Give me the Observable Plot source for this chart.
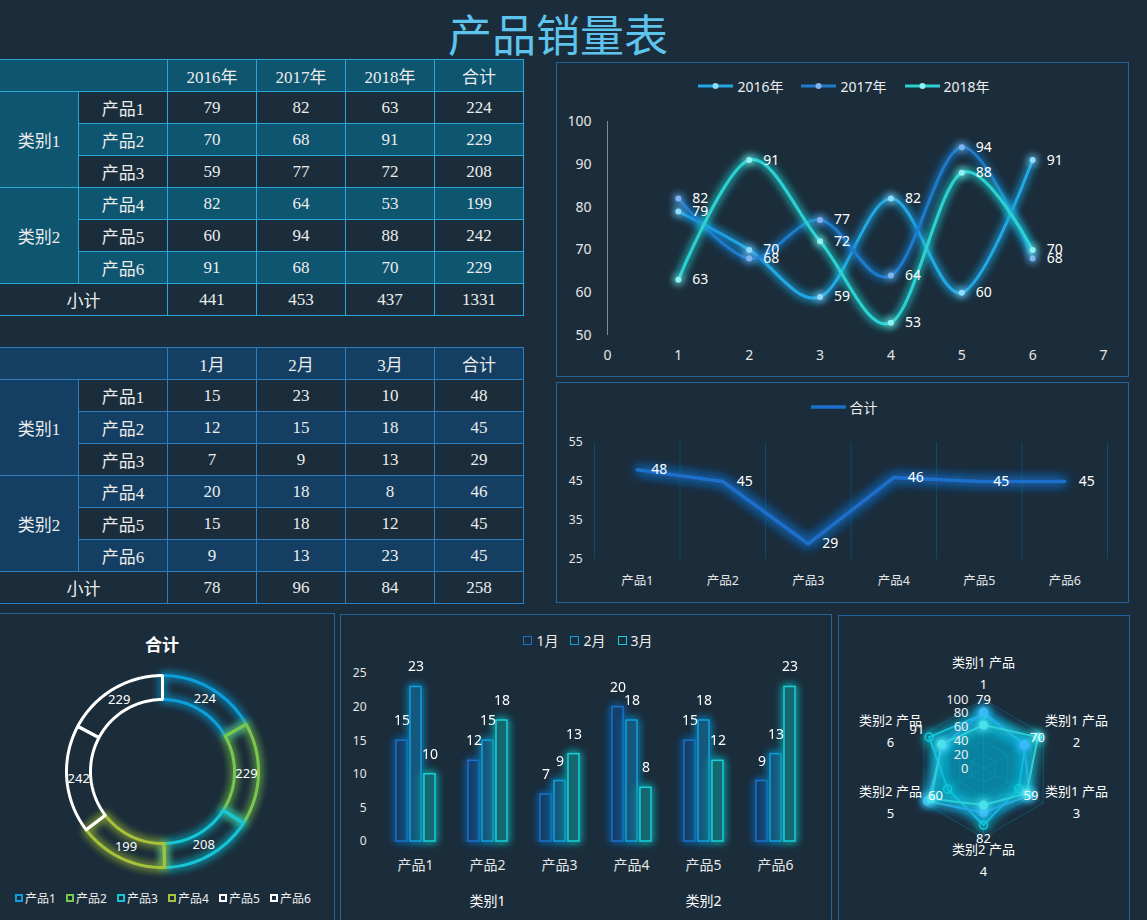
<!DOCTYPE html>
<html><head><meta charset="utf-8">
<script src="https://cdn.jsdelivr.net/npm/d3@7"></script>
<script src="https://cdn.jsdelivr.net/npm/@observablehq/plot@0.6"></script>
<style>
html,body{margin:0;padding:0;background:#1b2d3b;}
#root{position:relative;width:1147px;height:920px;overflow:hidden;background:#1b2d3b;font-family:"Noto Sans","Noto Sans CJK SC",sans-serif;color:#eaeaea;}
.panel{position:absolute;border:1px solid #22639a;box-sizing:border-box;}
.title{position:absolute;left:0;width:1116px;top:8px;text-align:center;font-size:44px;line-height:50px;color:#5ec4ee;font-family:"Noto Sans CJK SC",sans-serif;}
table.t{position:absolute;border-collapse:collapse;table-layout:fixed;width:524px;font-family:"Liberation Serif","Noto Sans CJK SC",serif;font-size:17px;color:#ececec;}
table.t td{padding:0;height:31px;text-align:center;vertical-align:middle;}
.legend{position:absolute;display:flex;align-items:center;justify-content:center;font-size:14px;color:#eee;white-space:nowrap;}
.wrap{position:absolute;}
.wrap svg{overflow:visible;}
</style></head><body>
<svg width="0" height="0" style="position:absolute">
<defs>
<filter id="glow" filterUnits="userSpaceOnUse" x="-300" y="-300" width="1600" height="1600">
<feGaussianBlur in="SourceGraphic" stdDeviation="4" result="b"/>
<feMerge><feMergeNode in="b"/><feMergeNode in="b"/><feMergeNode in="SourceGraphic"/></feMerge>
</filter>
<filter id="glowBig" filterUnits="userSpaceOnUse" x="-300" y="-300" width="1600" height="1600">
<feGaussianBlur in="SourceGraphic" stdDeviation="6" result="b"/>
<feMerge><feMergeNode in="b"/><feMergeNode in="b"/><feMergeNode in="b"/><feMergeNode in="SourceGraphic"/></feMerge>
</filter>
</defs></svg>
<div id="root"></div>
<script>
// ---------------- data ----------------
const years = ["2016年", "2017年", "2018年"];
const months = ["1月", "2月", "3月"];
const products = ["产品1", "产品2", "产品3", "产品4", "产品5", "产品6"];
const categories = ["类别1", "类别1", "类别1", "类别2", "类别2", "类别2"];
const sales2016 = [79, 70, 59, 82, 60, 91];
const sales2017 = [82, 68, 77, 64, 94, 68];
const sales2018 = [63, 91, 72, 53, 88, 70];
const salesJan = [15, 12, 7, 20, 15, 9];
const salesFeb = [23, 15, 9, 18, 18, 13];
const salesMar = [10, 18, 13, 8, 12, 23];
const lineYTicks = [50, 60, 70, 80, 90, 100];
const totalYTicks = [25, 35, 45, 55];
const barYTicks = [0, 5, 10, 15, 20, 25];
const radarTicks = [0, 20, 40, 60, 80, 100];

// ---------------- styles ----------------
const lineColors = ["#22a8e4", "#1f7ccc", "#2ad2d2"];
const dotColors = ["#8fdcff", "#7fb4ee", "#8ff4f0"];
const barStyles = [
  {fill: "#173f6b", stroke: "#1b72cc"},
  {fill: "#15587c", stroke: "#0fa0e0"},
  {fill: "#12686f", stroke: "#18d0d8"}
];
const donutColors = ["#0e9fdb", "#7ac74e", "#16c6d6", "#a6c23a", "#ffffff", "#ffffff"];
const radarLine = ["#18c4d8", "#2a9ee8", "#2ad0d8"];
const radarDot = ["#18c8d8", "#3ab8f8", "#48e2ea"];
const font = "'Noto Sans','Noto Sans CJK SC',sans-serif";
const chartStyle = {background: "transparent", color: "#e6e6e6", fontSize: "14px", fontFamily: font, overflow: "visible"};

const root = document.getElementById("root");
const yearSeries = [sales2016, sales2017, sales2018];
const monthSeries = [salesJan, salesFeb, salesMar];

function add(html) { root.insertAdjacentHTML("beforeend", html); }
function place(svg, left, top, w, h) {
  const d = document.createElement("div");
  d.className = "wrap";
  d.style.cssText = `left:${left}px;top:${top}px;width:${w}px;height:${h}px;`;
  d.appendChild(svg);
  root.appendChild(d);
}
function glow(svg, label, id, pred) {
  d3.select(svg).selectAll(`g[aria-label="${label}"]`).each(function() {
    if (!pred || pred(this)) this.setAttribute("filter", `url(#${id})`);
  });
}

// ---------------- title & panels ----------------
add(`<div class="title">产品销量表</div>`);
add(`<div class="panel" style="left:556px;top:62px;width:573px;height:315px"></div>`);
add(`<div class="panel" style="left:556px;top:382px;width:573px;height:221px"></div>`);
add(`<div class="panel" style="left:-2px;top:613px;width:337px;height:330px"></div>`);
add(`<div class="panel" style="left:340px;top:614px;width:492px;height:330px"></div>`);
add(`<div class="panel" style="left:838px;top:615px;width:292px;height:330px"></div>`);

// ---------------- tables ----------------
function makeTable(cols, series, theme, top) {
  const cell = (txt, bg, extra = "") => `<td style="background:${bg};border:1px solid ${theme.border}" ${extra}>${txt}</td>`;
  let html = `<colgroup>${[79, 89, 89, 89, 89, 89].map(w => `<col style="width:${w}px">`).join("")}</colgroup>`;
  html += `<tr>${cell("", theme.hi, 'colspan="2"')}${cols.map(c => cell(c, theme.hi)).join("")}${cell("合计", theme.hi)}</tr>`;
  products.forEach((p, i) => {
    const bg = i % 2 ? theme.hi : theme.lo;
    let r = "<tr>";
    if (i === 0 || categories[i] !== categories[i - 1]) {
      const n = categories.filter(c => c === categories[i]).length;
      r += cell(categories[i], theme.hi, `rowspan="${n}"`);
    }
    r += cell(p, bg) + series.map(s => cell(s[i], bg)).join("") + cell(d3.sum(series, s => s[i]), bg);
    html += r + "</tr>";
  });
  html += `<tr>${cell("小计", theme.lo, 'colspan="2"')}${series.map(s => cell(d3.sum(s), theme.lo)).join("")}${cell(d3.sum(series, s => d3.sum(s)), theme.lo)}</tr>`;
  add(`<table class="t" style="top:${top}px;left:-1px">${html}</table>`);
}
makeTable(years, yearSeries, {hi: "#0e5570", lo: "#1b2d3b", border: "#2ba6dc"}, 59);
makeTable(months, monthSeries, {hi: "#143f62", lo: "#1b2d3b", border: "#2a7ec2"}, 347);

// ---------------- chart A: yearly lines ----------------
{
  const legend = years.map((y, s) => `<span style="display:inline-flex;align-items:center;margin:0 9px">
    <svg width="35" height="8"><line x1="0" y1="4" x2="35" y2="4" stroke="${lineColors[s]}" stroke-width="3"/><circle cx="17.5" cy="4" r="3" fill="${dotColors[s]}"/></svg>
    <span style="margin-left:4px">${y}</span></span>`).join("");
  add(`<div class="legend" style="left:556px;top:75px;width:576px;height:22px">${legend}</div>`);
  const pts = yearSeries.map((vals, s) => vals.map((v, i) => ({x: i + 1, v})));
  const svg = Plot.plot({
    width: 572, height: 270, marginLeft: 51, marginRight: 25, marginTop: 21, marginBottom: 35,
    style: chartStyle,
    x: {domain: [0, products.length + 1], label: null},
    y: {domain: [lineYTicks[0], lineYTicks[lineYTicks.length - 1]], label: null},
    marks: [
      Plot.ruleX([0], {y1: lineYTicks[0], y2: lineYTicks[lineYTicks.length - 1], stroke: "#7f8e99", strokeWidth: 1}),
      Plot.axisX({ticks: d3.range(0, products.length + 2), tickFormat: d3.format("d"), tickSize: 0, tickPadding: 15, label: null}),
      Plot.axisY({ticks: lineYTicks, tickSize: 0, tickPadding: 16, label: null}),
      ...pts.map((p, s) => Plot.line(p, {x: "x", y: "v", stroke: lineColors[s], strokeWidth: 3, curve: "cardinal"})),
      ...pts.map((p, s) => Plot.dot(p, {x: "x", y: "v", r: 3, fill: dotColors[s]})),
      ...pts.map(p => Plot.text(p, {x: "x", y: "v", text: "v", dx: 14, textAnchor: "start", fill: "#ffffff"}))
    ]
  });
  glow(svg, "line", "glow");
  glow(svg, "dot", "glow");
  place(svg, 556, 100, 572, 270);
}

// ---------------- chart B: product totals ----------------
{
  add(`<div class="legend" style="left:556px;top:396px;width:576px;height:22px">
    <svg width="35" height="6"><line x1="0" y1="3" x2="35" y2="3" stroke="#1a70cc" stroke-width="3.5"/></svg>
    <span style="margin-left:4px">合计</span></div>`);
  const totals = products.map((p, i) => ({i, v: d3.sum(monthSeries, s => s[i])}));
  const svg = Plot.plot({
    width: 572, height: 170, marginLeft: 38, marginRight: 21, marginTop: 17, marginBottom: 36,
    style: chartStyle,
    x: {domain: [0, products.length], label: null},
    y: {domain: [totalYTicks[0], totalYTicks[totalYTicks.length - 1]], label: null},
    marks: [
      Plot.ruleX(d3.range(products.length + 1), {stroke: "#0f4a66", strokeWidth: 1}),
      Plot.axisY({ticks: totalYTicks, tickSize: 0, tickPadding: 12, fontSize: 12, label: null}),
      Plot.axisX({ticks: products.map((_, i) => i + 0.5), tickFormat: d => products[Math.floor(d)], tickSize: 0, tickPadding: 17, fontSize: 12.5, label: null}),
      Plot.line(totals, {x: d => d.i + 0.5, y: "v", stroke: "#1a70cc", strokeWidth: 3.5}),
      Plot.text(totals, {x: d => d.i + 0.5, y: "v", text: "v", dx: 14, textAnchor: "start", fill: "#ffffff"})
    ]
  });
  glow(svg, "line", "glowBig");
  place(svg, 556, 425, 572, 170);
}

// ---------------- donut ----------------
{
  add(`<div style="position:absolute;left:0;top:631px;width:324px;text-align:center;font-size:17px;font-weight:bold;color:#fff;">合计</div>`);
  const leg = products.map((p, k) => `<span style="display:inline-flex;align-items:center;width:51px">
    <span style="display:inline-block;width:4px;height:4px;border:2.5px solid ${donutColors[k]};background:#1b2d3b"></span>
    <span style="margin-left:2px">${p}</span></span>`).join("");
  add(`<div class="legend" style="left:15px;top:888px;height:20px;font-size:12px;justify-content:flex-start">${leg}</div>`);
  const totals = products.map((p, i) => d3.sum(yearSeries, s => s[i]));
  const arcs = d3.pie().sort(null).value(d => d)(totals);
  const Ro = 96, Ri = 72, N = 60;
  const slices = arcs.map(a => {
    const pts = [];
    for (let t = 0; t <= N; t++) { const g = a.startAngle + (a.endAngle - a.startAngle) * t / N; pts.push({x: Ro * Math.sin(g), y: Ro * Math.cos(g)}); }
    for (let t = N; t >= 0; t--) { const g = a.startAngle + (a.endAngle - a.startAngle) * t / N; pts.push({x: Ri * Math.sin(g), y: Ri * Math.cos(g)}); }
    pts.push(pts[0]);
    return pts;
  });
  const labels = arcs.map(a => { const g = (a.startAngle + a.endAngle) / 2, r = (Ro + Ri) / 2; return {x: r * Math.sin(g), y: r * Math.cos(g), v: a.data}; });
  const svg = Plot.plot({
    width: 326, height: 222, margin: 0, style: chartStyle,
    x: {domain: [-162, 164], axis: null}, y: {domain: [-111, 111], axis: null},
    marks: [
      ...slices.map((pts, k) => Plot.line(pts, {x: "x", y: "y", stroke: donutColors[k], strokeWidth: 3, strokeLinejoin: "miter"})),
      Plot.text(labels, {x: "x", y: "y", text: "v", fill: "#ffffff", fontSize: 13})
    ]
  });
  glow(svg, "line", "glow", el => (el.getAttribute("stroke") || "").toLowerCase() !== "#ffffff");
  place(svg, 0, 660, 326, 222);
}

// ---------------- bar chart ----------------
{
  const leg = months.map((m, j) => `<span style="display:inline-flex;align-items:center;margin:0 6px">
    <span style="display:inline-block;width:7px;height:7px;border:1.5px solid ${barStyles[j].stroke}"></span>
    <span style="margin-left:4px">${m}</span></span>`).join("");
  add(`<div class="legend" style="left:341px;top:629px;width:494px;height:22px">${leg}</div>`);
  const data = products.flatMap((p, i) => months.map((m, j) => ({product: p, month: m, v: monthSeries[j][i]})));
  const cats = Array.from(d3.group(products.map((p, i) => ({p, c: categories[i]})), d => d.c), ([c, arr]) => ({cat: c, mid: arr[Math.floor(arr.length / 2)].p}));
  const svg = Plot.plot({
    width: 490, height: 250, marginLeft: 38, marginRight: 20, marginTop: 13, marginBottom: 69,
    style: chartStyle,
    fx: {domain: products, padding: 0, label: null},
    x: {domain: months, paddingInner: 0.24, paddingOuter: 1.1, axis: null},
    y: {domain: [barYTicks[0], barYTicks[barYTicks.length - 1]], label: null},
    marks: [
      Plot.axisY({ticks: barYTicks, tickSize: 0, tickPadding: 13, fontSize: 12, label: null}),
      Plot.axisFx({anchor: "bottom", tickSize: 0, tickPadding: 19, label: null}),
      ...months.map((m, j) => Plot.barY(data.filter(d => d.month === m), {fx: "product", x: "month", y: "v", fill: barStyles[j].fill, stroke: barStyles[j].stroke, strokeWidth: 1.5})),
      Plot.text(data, {fx: "product", x: "month", y: "v", text: "v", dy: -20, fill: "#ffffff"}),
      Plot.text(cats, {fx: "mid", frameAnchor: "bottom", lineAnchor: "middle", dy: 60, text: "cat", fill: "#ffffff"})
    ]
  });
  glow(svg, "bar", "glow");
  place(svg, 341, 660, 490, 250);
}

// ---------------- radar ----------------
{
  const R = 69 / 100;
  const n = products.length;
  const ang = i => i * 2 * Math.PI / n;
  const polar = (v, i) => ({x: v * R * Math.sin(ang(i)), y: v * R * Math.cos(ang(i))});
  const rings = radarTicks.slice(1).flatMap(t => d3.range(n + 1).map(i => ({ring: t, ...polar(t, i % n)})));
  const spokes = products.map((p, i) => polar(radarTicks[radarTicks.length - 1], i));
  const series = yearSeries.map(vals => [...vals, vals[0]].map((v, k) => ({v, ...polar(v, k % n)})));
  const dataLabels = sales2016.map((v, i) => ({v, ...polar((v * R + 14) / R, i)}));
  const axisLabels = products.map((p, i) => {
    const s = Math.sin(ang(i)), c = Math.cos(ang(i));
    const side = Math.abs(s) > 0.01;
    return {
      x: side ? Math.sign(s) * 93 : 0,
      y: side ? (c > 0 ? 40 : -31) : (c > 0 ? 98 : -89),
      t: `${categories[i]} ${p.slice(0, 2)}\n${p.slice(2)}`
    };
  });
  const svg = Plot.plot({
    width: 292, height: 260, margin: 0, style: {...chartStyle, fontSize: "13px"},
    x: {domain: [-145, 147], axis: null}, y: {domain: [-132, 128], axis: null},
    marks: [
      Plot.line(rings, {x: "x", y: "y", z: "ring", stroke: "#124f6c", strokeWidth: 1}),
      Plot.link(spokes, {x1: 0, y1: 0, x2: "x", y2: "y", stroke: "#124f6c", strokeWidth: 1}),
      ...series.map((d, s) => Plot.line(d, {x: "x", y: "y", stroke: radarLine[s], strokeWidth: 2, fill: radarLine[s], fillOpacity: 0.08})),
      Plot.dot(series[0].slice(0, n), {x: "x", y: "y", r: 4, stroke: radarDot[0], strokeWidth: 1.5, fill: "none"}),
      Plot.dot(series[1].slice(0, n), {x: "x", y: "y", r: 4.5, fill: radarDot[1]}),
      Plot.dot(series[2].slice(0, n), {x: "x", y: "y", r: 4.5, fill: radarDot[2]}),
      Plot.text(radarTicks, {x: 0, y: t => t * R, dx: -15, textAnchor: "end", text: d => d, fill: "#eeeeee"}),
      Plot.text(dataLabels, {x: "x", y: "y", text: "v", fill: "#ffffff"}),
      Plot.text(axisLabels, {x: "x", y: "y", text: "t", lineHeight: 1.7, fill: "#ffffff"})
    ]
  });
  glow(svg, "line", "glowBig", el => el.getAttribute("stroke") !== "#124f6c");
  glow(svg, "dot", "glow");
  place(svg, 838, 640, 292, 260);
}
</script>
</body></html>
